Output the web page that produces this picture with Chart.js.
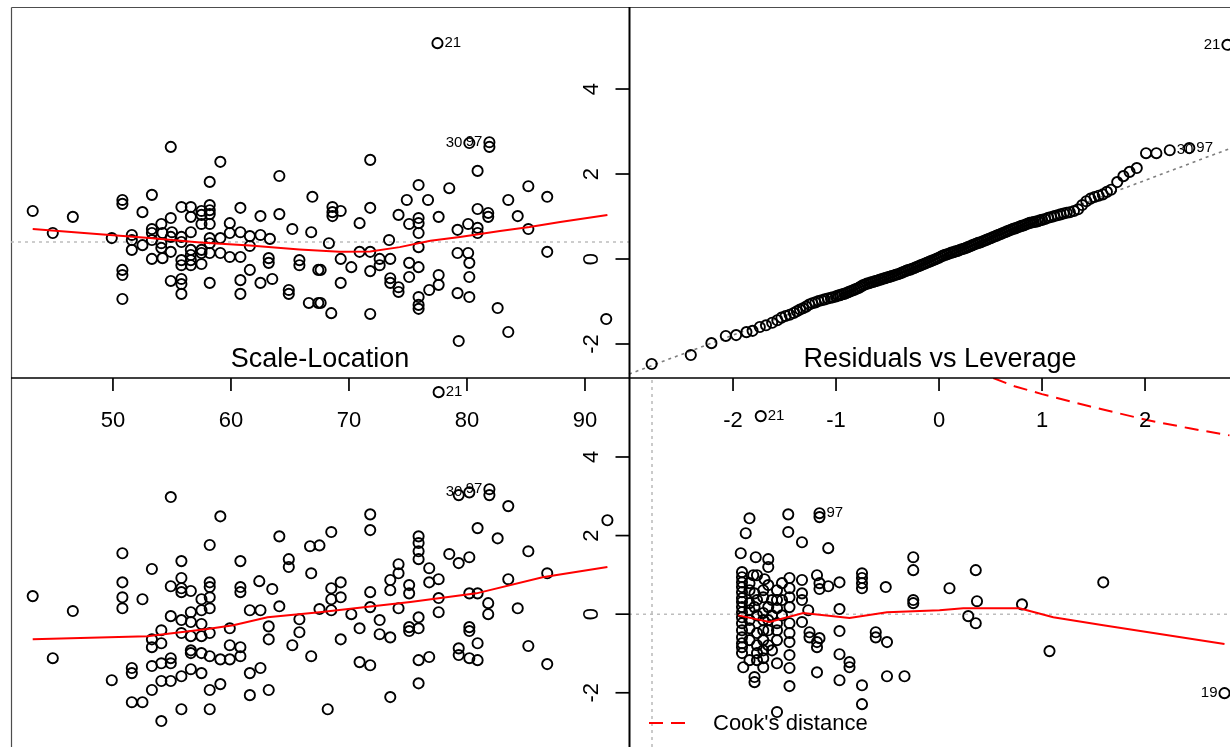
<!DOCTYPE html>
<html>
<head>
<meta charset="utf-8">
<title>Regression diagnostics</title>
<style>
  html, body { margin: 0; padding: 0; background: #ffffff; }
  #wrap { position: relative; width: 1230px; height: 747px; }
  canvas { display: block; }
</style>
<script src="https://cdn.jsdelivr.net/npm/chart.js@4.4.1/dist/chart.umd.min.js"></script>
</head>
<body>
<div id="wrap"><canvas id="diag" width="1230" height="747"></canvas></div>
<script>
// ---------------- data ----------------
const fittedTicks = [50, 60, 70, 80, 90];
const quantileTicks = [-2, -1, 0, 1, 2];
const residualTicks = [-2, 0, 2, 4];

// residuals against fitted values
const fittedResiduals = [
  [54.9,2.42],[59.1,2.04],[58.2,1.53],[64.1,1.68],[53.3,1.20],[50.8,1.07],[66.9,1.15],[77.5,5.06],[80.2,2.52],[81.9,2.54],
  [81.9,2.42],[71.8,2.09],[80.9,1.81],[75.9,1.45],[78.5,1.37],[85.2,1.42],[86.8,1.15],[83.5,1.07],[76.7,1.07],[74.9,1.07],
  [43.2,0.79],[50.8,0.97],[52.5,0.76],[46.6,0.64],[55.8,0.89],[56.6,0.89],[58.2,0.94],[58.2,0.81],[58.2,0.71],[57.5,0.79],
  [57.5,0.69],[56.6,0.64],[54.9,0.61],[60.8,0.87],[62.5,0.66],[64.1,0.71],[57.5,0.46],[58.2,0.46],[56.6,0.25],[54.1,0.46],
  [53.3,0.33],[53.3,0.23],[54.2,0.23],[55.0,0.25],[59.9,0.48],[59.9,0.23],[60.8,0.25],[61.6,0.15],[62.5,0.18],[63.3,0.08],
  [65.2,0.33],[66.8,0.25],[44.9,0.23],[49.9,0.10],[51.6,0.18],[51.6,0.05],[52.5,-0.08],[53.3,0.05],[54.1,-0.03],[54.1,-0.15],
  [54.9,0.13],[55.8,0.13],[55.8,0.00],[56.6,-0.20],[57.5,-0.20],[57.5,-0.28],[56.6,-0.33],[58.2,0.10],[58.2,-0.03],[59.1,0.10],
  [58.2,-0.28],[59.1,-0.28],[59.9,-0.38],[60.8,-0.38],[61.6,-0.10],[51.6,-0.20],[54.9,-0.25],[53.3,-0.43],[54.2,-0.41],[55.8,-0.46],
  [55.8,-0.59],[56.6,-0.46],[56.6,-0.59],[57.5,-0.56],[63.2,-0.41],[63.2,-0.53],[65.8,-0.46],[65.8,-0.59],[67.4,-0.71],[61.6,-0.71],
  [50.8,-0.71],[50.8,-0.84],[54.9,-0.99],[55.8,-0.94],[55.8,-1.07],[55.8,-1.32],[58.2,-1.04],[60.8,-0.97],[62.5,-1.04],[63.5,-0.94],
  [60.8,-1.32],[64.9,-1.22],[64.9,-1.32],[50.8,-1.45],[66.6,-1.55],[67.4,-1.55],[68.6,0.89],[68.6,0.76],[68.6,0.66],[69.3,0.79],
  [71.8,0.87],[70.9,0.48],[74.2,0.69],[75.9,0.61],[75.9,0.48],[75.9,0.23],[77.6,0.64],[75.1,0.46],[73.4,0.05],[68.3,-0.03],
  [70.9,-0.25],[71.8,-0.25],[69.3,-0.43],[70.2,-0.64],[67.6,-0.71],[71.8,-0.74],[72.6,-0.43],[72.6,-0.59],[73.5,-0.43],[73.5,-0.92],
  [73.5,-1.04],[74.2,-1.15],[74.2,-1.27],[75.1,-0.53],[75.1,-0.89],[75.9,-0.13],[75.9,-0.64],[76.8,-1.22],[77.6,-0.84],[77.6,-1.09],
  [75.9,-1.40],[75.9,-1.60],[75.9,-1.70],[69.3,-1.04],[67.6,-1.55],[68.5,-1.81],[71.8,-1.83],[79.2,0.31],[80.1,0.46],[80.9,0.36],
  [80.9,0.23],[80.9,0.84],[81.8,0.74],[81.8,0.64],[84.3,0.66],[85.2,0.33],[86.8,-0.25],[79.2,-0.28],[80.1,-0.28],[80.2,-0.53],
  [80.2,-0.89],[79.2,-1.30],[80.2,-1.40],[82.6,-1.68],[83.5,-2.29],[79.3,-2.52],[91.8,-1.96]
];
const fittedSmooth = [
  [43.2,0.33],[48.9,0.20],[53.1,0.10],[57.4,-0.01],[61.6,-0.09],[65.8,-0.19],[69.2,-0.25],[71.8,-0.24],
  [74.3,-0.13],[76.9,0.03],[79.4,0.13],[82.8,0.28],[85.3,0.38],[87.9,0.51],[91.9,0.69]
];
const fittedIds = [['21',77.5,5.06,'right'],['30',80.2,2.52,'left'],['97',81.9,2.54,'left']];

// standardized residuals against fitted values
const fittedStdResiduals = [
  [54.9,2.98],[59.1,2.49],[64.1,1.98],[58.2,1.76],[66.7,1.73],[67.5,1.75],[50.8,1.55],[55.8,1.35],[60.8,1.35],[53.3,1.15],
  [64.9,1.40],[64.9,1.20],[66.8,1.04],[55.8,0.92],[54.9,0.71],[55.8,0.66],[55.8,0.56],[56.6,0.59],[58.2,0.81],[58.2,0.69],
  [58.2,0.43],[58.2,0.15],[57.5,0.38],[57.5,0.10],[60.8,0.69],[60.8,0.56],[62.4,0.84],[63.5,0.64],[50.8,0.81],[50.8,0.43],
  [50.8,0.15],[52.5,0.38],[43.2,0.46],[46.6,0.08],[61.6,0.10],[62.5,0.10],[64.1,0.20],[67.5,0.13],[54.9,-0.05],[56.6,0.05],
  [55.8,-0.15],[56.6,-0.20],[57.5,-0.25],[58.2,-0.48],[55.8,-0.48],[54.1,-0.41],[53.3,-0.64],[53.3,-0.84],[54.1,-0.74],[56.6,-0.56],
  [57.5,-0.56],[59.9,-0.36],[63.2,-0.31],[65.8,-0.13],[65.8,-0.46],[59.9,-0.79],[60.8,-0.84],[60.8,-1.07],[63.2,-0.64],[65.2,-0.79],
  [66.8,-1.07],[44.9,-1.12],[56.6,-0.92],[56.6,-0.99],[57.5,-0.99],[58.2,-1.07],[59.1,-1.15],[59.9,-1.15],[54.9,-1.12],[54.9,-1.25],
  [54.1,-1.25],[53.3,-1.32],[51.6,-1.37],[51.6,-1.50],[56.6,-1.40],[57.5,-1.50],[55.8,-1.58],[61.6,-1.50],[62.5,-1.37],[49.9,-1.68],
  [54.1,-1.70],[54.9,-1.70],[53.3,-1.93],[58.2,-1.93],[59.1,-1.78],[63.2,-1.93],[61.6,-2.06],[51.6,-2.24],[52.5,-2.24],[55.8,-2.42],
  [58.2,-2.42],[54.1,-2.72],[77.6,5.65],[79.3,3.03],[80.2,3.10],[81.9,3.18],[81.9,3.03],[83.5,2.75],[91.9,2.39],[71.8,2.54],
  [71.8,2.14],[68.5,2.09],[80.9,2.19],[82.6,1.93],[85.2,1.60],[75.9,1.98],[75.9,1.81],[75.9,1.60],[75.9,1.40],[76.8,1.17],
  [78.5,1.53],[79.3,1.30],[80.2,1.45],[74.2,1.27],[74.2,1.04],[69.3,0.81],[73.5,0.87],[73.5,0.61],[75.1,0.74],[75.1,0.53],
  [76.8,0.81],[77.6,0.89],[86.8,1.04],[83.5,0.89],[68.5,0.66],[68.5,0.38],[69.3,0.43],[68.5,0.10],[71.8,0.56],[71.8,0.18],
  [70.2,0.00],[74.2,0.15],[77.6,0.41],[77.6,0.05],[80.2,0.53],[80.9,0.53],[81.8,0.28],[81.8,0.00],[84.3,0.15],[72.6,-0.15],
  [72.6,-0.51],[73.5,-0.59],[75.1,-0.33],[75.1,-0.43],[75.9,-0.08],[75.9,-0.36],[70.9,-0.36],[69.3,-0.64],[80.2,-0.33],[80.2,-0.43],
  [80.9,-0.74],[85.2,-0.81],[86.8,-1.27],[79.3,-0.87],[79.3,-1.04],[80.2,-1.12],[80.9,-1.17],[76.8,-1.09],[75.9,-1.17],[70.9,-1.22],
  [71.8,-1.30],[75.9,-1.76],[73.5,-2.11],[68.2,-2.42]
];
const fittedStdSmooth = [
  [43.2,-0.64],[52.9,-0.56],[58.0,-0.38],[60.2,-0.28],[63.1,-0.08],[67.5,0.05],[75.2,0.31],[80.8,0.53],[86.4,0.94],[91.9,1.20]
];
const fittedStdIds = [['21',77.6,5.65,'right'],['30',80.2,3.10,'left'],['97',81.9,3.18,'left']];

// normal Q-Q: theoretical quantile, standardized residual
const qqPoints = [
  [-2.79,-2.47],[-2.41,-2.26],[-2.21,-1.98],[-2.07,-1.81],[-1.97,-1.79],[-1.87,-1.72],[-1.81,-1.69],[-1.74,-1.60],[-1.68,-1.56],[-1.62,-1.50],
  [-1.57,-1.44],[-1.53,-1.38],[-1.49,-1.34],[-1.45,-1.31],[-1.41,-1.27],[-1.38,-1.23],[-1.35,-1.19],[-1.32,-1.16],[-1.29,-1.12],[-1.26,-1.07],
  [-1.23,-1.04],[-1.20,-1.02],[-1.17,-0.99],[-1.14,-0.97],[-1.11,-0.95],[-1.08,-0.93],[-1.05,-0.91],[-1.03,-0.90],
  [-1.00,-0.88],[-0.98,-0.86],[-0.96,-0.85],[-0.94,-0.83],[-0.92,-0.82],[-0.90,-0.80],[-0.88,-0.78],[-0.86,-0.76],[-0.84,-0.74],[-0.82,-0.72],
  [-0.80,-0.70],[-0.78,-0.68],[-0.76,-0.65],[-0.74,-0.62],[-0.72,-0.60],[-0.70,-0.58],[-0.68,-0.57],[-0.66,-0.55],[-0.64,-0.54],[-0.62,-0.52],
  [-0.60,-0.51],[-0.58,-0.49],[-0.56,-0.48],[-0.54,-0.46],[-0.52,-0.45],[-0.50,-0.43],[-0.48,-0.42],[-0.46,-0.40],[-0.44,-0.39],[-0.42,-0.37],
  [-0.40,-0.36],[-0.38,-0.34],[-0.36,-0.32],[-0.34,-0.30],[-0.32,-0.28],[-0.30,-0.26],[-0.28,-0.25],[-0.26,-0.23],[-0.24,-0.21],[-0.22,-0.19],
  [-0.20,-0.17],[-0.18,-0.15],[-0.16,-0.13],[-0.14,-0.11],[-0.12,-0.09],[-0.10,-0.07],[-0.08,-0.05],[-0.06,-0.03],[-0.04,-0.01],[-0.02,0.01],
  [0.00,0.03],[0.02,0.06],[0.04,0.08],[0.06,0.10],[0.08,0.11],[0.10,0.13],[0.12,0.15],[0.14,0.16],[0.16,0.18],[0.18,0.19],
  [0.20,0.21],[0.22,0.23],[0.24,0.24],[0.26,0.26],[0.28,0.28],[0.30,0.30],[0.32,0.32],[0.34,0.34],[0.36,0.36],[0.38,0.38],
  [0.40,0.39],[0.42,0.41],[0.44,0.43],[0.46,0.45],[0.48,0.47],[0.50,0.49],[0.52,0.51],[0.54,0.53],[0.56,0.55],[0.58,0.57],
  [0.60,0.59],[0.62,0.61],[0.64,0.63],[0.66,0.65],[0.68,0.67],[0.70,0.69],[0.72,0.71],[0.74,0.72],[0.76,0.74],[0.78,0.76],
  [0.80,0.78],[0.82,0.79],[0.84,0.81],[0.86,0.83],[0.88,0.85],[0.90,0.86],[0.92,0.87],[0.94,0.88],[0.96,0.89],[0.98,0.91],
  [1.00,0.92],[1.03,0.94],[1.06,0.97],[1.09,0.99],[1.12,1.01],[1.15,1.03],[1.18,1.05],[1.21,1.07],[1.24,1.09],[1.27,1.10],
  [1.31,1.13],[1.35,1.17],[1.39,1.27],[1.43,1.36],[1.47,1.42],[1.51,1.46],[1.55,1.49],[1.59,1.52],[1.63,1.58],[1.67,1.63],
  [1.73,1.81],[1.79,1.95],[1.85,2.05],[1.92,2.14],[2.01,2.49],[2.11,2.49],[2.24,2.56],[2.43,2.61],[2.80,5.04]
];
const qqLineCoef = [0.03, 0.91];   // intercept, slope
const qqIds = [['21',2.80,5.04,'left'],['30',2.24,2.56,'right'],['97',2.43,2.61,'right']];

// residuals against leverage
const leverageResiduals = [
  [0.0078,2.44],[0.0109,2.54],[0.0134,2.57],[0.0134,2.47],[0.0075,2.06],[0.0109,2.09],[0.0120,1.83],[0.0141,1.68],[0.0071,1.55],[0.0083,1.45],
  [0.0093,1.40],[0.0093,1.20],[0.0209,1.45],[0.0209,1.12],[0.0084,0.99],[0.0090,0.89],[0.0072,0.94],[0.0072,0.81],[0.0072,0.69],[0.0072,0.56],
  [0.0072,0.41],[0.0072,0.18],[0.0072,-0.08],[0.0072,-0.23],[0.0072,-0.41],[0.0072,-0.59],[0.0072,-0.99],[0.0073,-1.35],[0.0078,0.79],[0.0078,0.28],
  [0.0078,-0.15],[0.0082,0.53],[0.0082,0.18],[0.0084,-0.48],[0.0084,-0.99],[0.0084,-1.17],[0.0082,-1.60],[0.0082,-1.73],[0.0089,0.43],[0.0089,0.03],
  [0.0089,-0.41],[0.0089,-0.92],[0.0089,-1.35],[0.0093,0.18],[0.0093,-0.15],[0.0100,0.36],[0.0100,0.15],[0.0100,-0.23],[0.0100,-0.66],[0.0100,-1.25],
  [0.0104,0.79],[0.0110,0.92],[0.0110,0.66],[0.0110,0.43],[0.0110,0.18],[0.0110,-0.23],[0.0110,-0.48],[0.0110,-0.71],[0.0110,-1.04],[0.0110,-1.37],
  [0.0110,-1.83],[0.0120,0.87],[0.0120,0.53],[0.0120,0.36],[0.0125,0.10],[0.0120,-0.20],[0.0126,-0.46],[0.0126,-0.59],[0.0132,0.99],[0.0134,0.79],
  [0.0134,0.64],[0.0141,0.71],[0.0132,-0.71],[0.0134,-0.61],[0.0132,-0.84],[0.0132,-1.48],[0.0150,0.81],[0.0150,0.13],[0.0150,-0.43],[0.0150,-1.02],
  [0.0150,-1.68],[0.0158,-1.22],[0.0158,-1.35],[0.0168,1.04],[0.0168,0.92],[0.0168,0.79],[0.0168,0.66],[0.0168,-1.81],[0.0168,-2.29],[0.0179,-0.46],
  [0.0179,-0.59],[0.0188,-0.71],[0.0187,0.69],[0.0188,-1.58],[0.0202,-1.58],[0.0209,0.36],[0.0209,0.28],[0.0100,-2.49],[0.0072,1.07],[0.0072,0.31],
  [0.0072,0.05],[0.0072,-0.74],[0.0072,-0.84],[0.0078,0.61],[0.0078,0.10],[0.0078,-0.36],[0.0078,-0.66],[0.0078,-1.17],[0.0081,0.99],[0.0084,0.36],
  [0.0084,-0.03],[0.0084,-0.79],[0.0089,0.61],[0.0089,-0.15],[0.0089,-0.66],[0.0089,-1.12],[0.0093,0.74],[0.0093,-0.41],[0.0093,-0.79],[0.0096,0.36],
  [0.0096,-0.03],[0.0096,-0.92],[0.0100,0.61],[0.0100,-0.41],[0.0104,0.36],[0.0104,-0.03],[0.0259,1.12],[0.0238,0.66],[0.0260,0.33],[0.0253,-0.05],
  [0.0259,-0.23],[0.0296,0.25],[0.0361,0.81],[0.0318,-0.94],[0.0458,-2.01],[0.0087,5.04]
];
const leverageSmooth = [
  [0.0069,-0.03],[0.0094,-0.20],[0.0121,0.03],[0.0158,-0.10],[0.0188,0.05],[0.0230,0.10],[0.0249,0.15],[0.0294,0.15],
  [0.0321,-0.08],[0.0361,-0.28],[0.0458,-0.76]
];
const cookContour = [
  [0.0273,6.01],[0.0290,5.80],[0.0312,5.60],[0.0350,5.29],[0.0396,4.94],[0.0430,4.73],[0.0462,4.55]
];
const leverageIds = [['21',0.0087,5.04,'right'],['97',0.0134,2.57,'right'],['19',0.0458,-2.01,'left']];

// ---------------- layout ----------------
const W = 1230, H = 747;
const FONT = '"Liberation Sans", Arial, Helvetica, sans-serif';
// pixel box of every panel and the data window it shows
const panels = {
  fit: { px: [11, 629],   py: [7, 378],   xlim: [41.36, 93.73],     ylim: [-3.46, 5.98] },
  qq:  { px: [629, 1230], py: [7, 378],   xlim: [-3.01, 2.825],     ylim: [-2.80, 5.93] },
  std: { px: [11, 629],   py: [378, 747], xlim: [41.36, 93.73],     ylim: [-3.38, 6.01] },
  lev: { px: [629, 1230], py: [378, 747], xlim: [-0.00184, 0.04624], ylim: [-3.38, 6.01] }
};

// a full-canvas linear scale that places a panel's window on its pixel box
function xRange(p) {
  const k = (p.xlim[1] - p.xlim[0]) / (p.px[1] - p.px[0]);
  return { min: p.xlim[0] - p.px[0] * k, max: p.xlim[0] + (W - p.px[0]) * k };
}
function yRange(p) {
  const k = (p.ylim[1] - p.ylim[0]) / (p.py[1] - p.py[0]);
  return { min: p.ylim[1] - (H - p.py[0]) * k, max: p.ylim[1] + p.py[0] * k };
}
const hidden = (axis, r) => ({ type: 'linear', axis, display: false, min: r.min, max: r.max });

const asXY = (pairs) => pairs.map(([x, y]) => ({ x, y }));
function circles(pairs, xID, yID) {
  return {
    data: asXY(pairs), xAxisID: xID, yAxisID: yID, showLine: false,
    pointStyle: 'circle', pointRadius: 5.1, pointHoverRadius: 5.1,
    pointBorderWidth: 1.9, pointBorderColor: '#000000', pointBackgroundColor: 'rgba(0,0,0,0)',
    clip: false, order: 2
  };
}
function path(pairs, xID, yID, color, width, dash, order, clip) {
  return {
    data: asXY(pairs), xAxisID: xID, yAxisID: yID, showLine: true,
    borderColor: color, borderWidth: width, borderDash: dash, pointRadius: 0, pointHoverRadius: 0,
    fill: false, tension: 0, clip: clip === undefined ? false : clip, order
  };
}

const P = panels;
const qqEnds = P.qq.xlim.map(x => [x, qqLineCoef[0] + qqLineCoef[1] * x]);

const datasets = [
  // reference lines (drawn underneath)
  path([[P.fit.xlim[0], 0], [P.fit.xlim[1], 0]], 'xFit', 'yFit', '#bdbdbd', 1.6, [3, 4], 5),
  path(qqEnds, 'xQ', 'yQ', '#7f7f7f', 1.6, [3, 4], 5),
  path([[P.lev.xlim[0], 0], [P.lev.xlim[1], 0]], 'xLev', 'yStd', '#bdbdbd', 1.6, [3, 4], 5),
  path([[0, P.lev.ylim[0]], [0, P.lev.ylim[1]]], 'xLev', 'yStd', '#bdbdbd', 1.6, [3, 4], 5),
  // points
  circles(fittedResiduals, 'xFit', 'yFit'),
  circles(fittedStdResiduals, 'xFit', 'yStd'),
  circles(qqPoints, 'xQ', 'yQ'),
  circles(leverageResiduals, 'xLev', 'yStd'),
  // smoothers and Cook's distance contour
  path(fittedSmooth, 'xFit', 'yFit', '#ff0000', 2, [], 1),
  path(fittedStdSmooth, 'xFit', 'yStd', '#ff0000', 2, [], 1),
  path(leverageSmooth, 'xLev', 'yStd', '#ff0000', 2, [], 1),
  path(cookContour, 'xLev', 'yStd', '#ff0000', 2, [14, 8], 1, { left: 0, top: -P.lev.py[0], right: 0, bottom: 0 })
];

// axes, ids, titles and the legend
const decor = {
  id: 'decor',
  beforeDatasetsDraw(chart) {
    const c = chart.ctx;
    c.save();
    c.strokeStyle = '#4d4d4d';
    c.lineWidth = 1.2;
    c.beginPath();
    c.moveTo(P.fit.px[0] + 0.5, P.fit.py[0] + 0.5); c.lineTo(W, P.fit.py[0] + 0.5);
    c.moveTo(P.fit.px[0] + 0.5, P.fit.py[0] + 0.5); c.lineTo(P.fit.px[0] + 0.5, H);
    c.stroke();
    c.restore();
  },
  afterDatasetsDraw(chart) {
    const c = chart.ctx, s = chart.scales;
    const axisY = P.fit.py[1], axisX = P.qq.px[0] + 0.5;
    c.save();
    c.strokeStyle = '#000000';
    c.fillStyle = '#000000';
    // shared horizontal axis line and vertical axis line
    c.lineWidth = 1.7;
    c.beginPath(); c.moveTo(P.fit.px[0], axisY); c.lineTo(W, axisY); c.stroke();
    c.lineWidth = 2;
    c.beginPath(); c.moveTo(axisX, P.qq.py[0]); c.lineTo(axisX, H); c.stroke();

    // bottom ticks of the upper panels
    c.lineWidth = 1.7;
    c.font = '22px ' + FONT;
    c.textAlign = 'center';
    c.textBaseline = 'alphabetic';
    const downTicks = (scale, values) => {
      for (const v of values) {
        const x = scale.getPixelForValue(v);
        c.beginPath(); c.moveTo(x, axisY); c.lineTo(x, axisY + 13); c.stroke();
        c.fillText(String(v), x, axisY + 49);
      }
    };
    downTicks(s.xFit, fittedTicks);
    downTicks(s.xQ, quantileTicks);

    // left ticks of the right-hand panels, labels turned upright
    const leftTicks = (scale, values) => {
      for (const v of values) {
        const y = scale.getPixelForValue(v);
        c.beginPath(); c.moveTo(axisX - 14, y); c.lineTo(axisX, y); c.stroke();
        c.save();
        c.translate(axisX - 32, y);
        c.rotate(-Math.PI / 2);
        c.textAlign = 'center';
        c.fillText(String(v), 0, 0);
        c.restore();
      }
    };
    leftTicks(s.yQ, residualTicks);
    leftTicks(s.yStd, residualTicks);

    // observation ids
    c.font = '15px ' + FONT;
    c.textBaseline = 'middle';
    const ids = (xs, ys, list) => {
      for (const [t, xv, yv, side] of list) {
        const x = xs.getPixelForValue(xv), y = ys.getPixelForValue(yv);
        if (side === 'right') { c.textAlign = 'left'; c.fillText(t, x + 7, y); }
        else { c.textAlign = 'right'; c.fillText(t, x - 7, y); }
      }
    };
    ids(s.xFit, s.yFit, fittedIds);
    ids(s.xFit, s.yStd, fittedStdIds);
    ids(s.xQ, s.yQ, qqIds);
    ids(s.xLev, s.yStd, leverageIds);

    // panel titles
    c.font = '27px ' + FONT;
    c.textAlign = 'center';
    c.textBaseline = 'alphabetic';
    c.fillText('Scale-Location', (P.std.px[0] + P.std.px[1]) / 2, P.std.py[0] - 11);
    c.fillText('Residuals vs Leverage', 940, P.lev.py[0] - 11);

    // legend for the Cook's distance contour
    c.strokeStyle = '#ff0000';
    c.lineWidth = 2;
    c.setLineDash([14, 8]);
    c.beginPath(); c.moveTo(649, 723); c.lineTo(687, 723); c.stroke();
    c.setLineDash([]);
    c.font = '22px ' + FONT;
    c.textAlign = 'left';
    c.fillText("Cook's distance", 713, 730);
    c.restore();
  }
};

new Chart(document.getElementById('diag'), {
  type: 'scatter',
  data: { datasets },
  options: {
    responsive: false,
    animation: false,
    devicePixelRatio: 1,
    events: [],
    layout: { padding: 0, autoPadding: false },
    plugins: { legend: { display: false }, tooltip: { enabled: false }, title: { display: false } },
    scales: {
      x: { display: false },
      y: { display: false },
      xFit: hidden('x', xRange(P.fit)),
      yFit: hidden('y', yRange(P.fit)),
      xQ: hidden('x', xRange(P.qq)),
      yQ: hidden('y', yRange(P.qq)),
      yStd: hidden('y', yRange(P.std)),
      xLev: hidden('x', xRange(P.lev))
    }
  },
  plugins: [decor]
});
</script>
</body>
</html>
